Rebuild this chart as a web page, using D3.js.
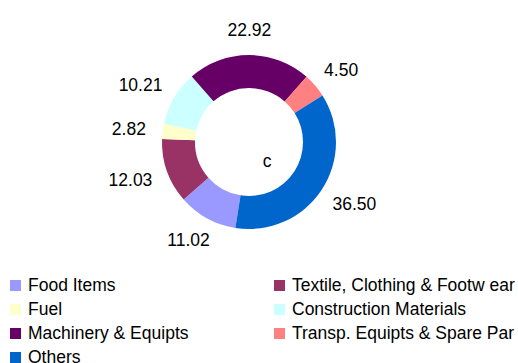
<!DOCTYPE html>
<html>
<head>
<meta charset="utf-8">
<script src="https://cdn.jsdelivr.net/npm/d3@7/dist/d3.min.js"></script>
<style>
  html, body { margin: 0; padding: 0; background: #fff; }
  svg { display: block; font-family: "Liberation Sans", Arial, sans-serif; }
</style>
</head>
<body>
<svg id="chart" width="518" height="363"></svg>
<script>
// Share of imports by commodity group (%)
const categories = [
  "Food Items",
  "Textile, Clothing & Footw ear",
  "Fuel",
  "Construction Materials",
  "Machinery & Equipts",
  "Transp. Equipts & Spare Par",
  "Others"
];
const values = [11.02, 12.03, 2.82, 10.21, 22.92, 4.50, 36.50];
const colors = ["#9999FF", "#993366", "#FFFFCC", "#CCFFFF", "#660066", "#FF8080", "#0066CC"];

const svg = d3.select("#chart");

// Ring geometry
const cx = 249, cy = 142;
const rOuter = 87, rInner = 54;
const startDeg = 189;
const start = startDeg * Math.PI / 180;

const data = categories.map((c, i) => ({ name: c, value: values[i], color: colors[i] }));

const pie = d3.pie()
  .value(d => d.value)
  .sort(null)
  .startAngle(start)
  .endAngle(start + 2 * Math.PI);

const arc = d3.arc().innerRadius(rInner).outerRadius(rOuter);
const arcs = pie(data);

const g = svg.append("g").attr("transform", `translate(${cx},${cy})`);

g.selectAll("path.slice")
  .data(arcs)
  .join("path")
  .attr("class", "slice")
  .attr("d", arc)
  .attr("fill", d => d.data.color);

// Value labels placed outside each slice, pushed out by half their own size
const labelR = rOuter + 17;
const fontSize = 17.5;
const fmt = d3.format(".2f");
g.selectAll("text.val")
  .data(arcs)
  .join("text")
  .attr("class", "val")
  .attr("font-size", fontSize)
  .attr("fill", "#000")
  .attr("text-anchor", "middle")
  .text(d => fmt(d.data.value))
  .each(function (d) {
    const a = (d.startAngle + d.endAngle) / 2;
    const bb = this.getBBox();
    const sx = Math.sin(a), sy = -Math.cos(a);
    const x = labelR * sx + sx * bb.width / 2;
    const y = labelR * sy + sy * 8;
    d3.select(this).attr("x", x).attr("y", y + 6.3);
  });

// Small caption inside the ring
g.append("text")
  .attr("x", 18)
  .attr("y", 25)
  .attr("text-anchor", "middle")
  .attr("font-size", fontSize)
  .text("c");

// Legend in two columns
const colX = [10, 274];
const rowY0 = 291, rowStep = 24;
const legend = svg.append("g");
data.forEach((d, i) => {
  const col = i % 2, row = Math.floor(i / 2);
  const x = colX[col], y = rowY0 + row * rowStep;
  legend.append("rect")
    .attr("x", x).attr("y", y - 11)
    .attr("width", 11).attr("height", 11)
    .attr("fill", d.color);
  legend.append("text")
    .attr("x", x + 18).attr("y", y)
    .attr("font-size", fontSize)
    .attr("fill", "#000")
    .text(d.name);
});
</script>
</body>
</html>
